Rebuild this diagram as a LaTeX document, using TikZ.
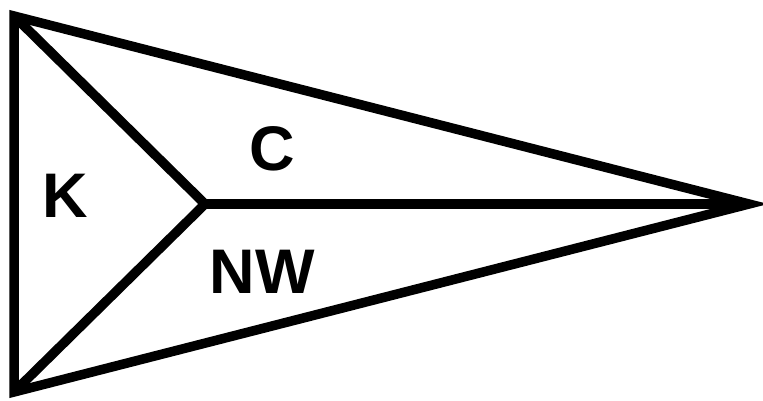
\documentclass[tikz,border=0pt]{standalone}
\usepackage{fontspec}
\setmainfont{Liberation Sans}
\begin{document}
\begin{tikzpicture}[x=1pt,y=-1pt,
  edge/.style={line width=9.5pt,line join=miter,miter limit=10},
  lbl/.style={font=\fontsize{63}{65}\selectfont\bfseries,inner sep=0pt,anchor=base}]
\useasboundingbox (0,0) rectangle (763,400);
\coordinate (tl) at (14,16);
\coordinate (bl) at (14,392);
\coordinate (tip) at (749,204);
\coordinate (mid) at (205,204);
\draw[edge] (tl) -- (tip) -- (bl) -- cycle;
\draw[edge] (tl) -- (mid) -- (bl);
\draw[edge] (mid) -- (tip);
\node[lbl] (k) at (65,217) {K};
\node[lbl] (c) at (272,170) {C};
\node[lbl] (nw) at (262,293) {NW};
\end{tikzpicture}
\end{document}
